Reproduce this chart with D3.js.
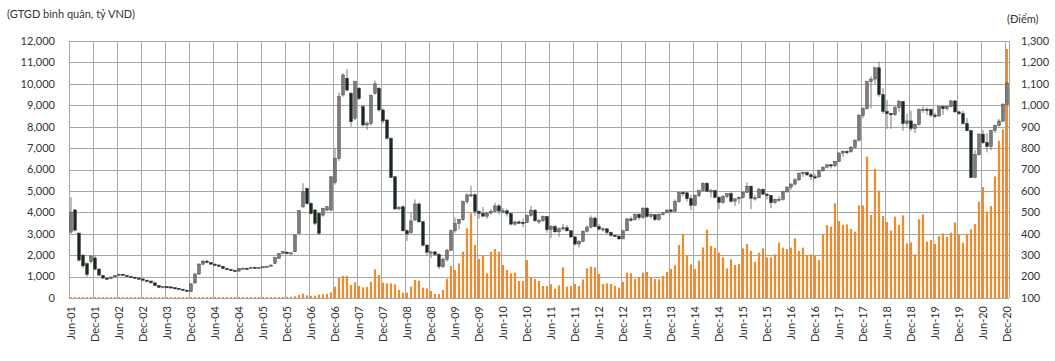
<!DOCTYPE html>
<html><head><meta charset="utf-8">
<script src="https://cdn.jsdelivr.net/npm/d3@7/dist/d3.min.js"></script>
<style>
html,body{margin:0;padding:0;background:#fff;}
svg text{font-family:Lato,"Noto Sans",sans-serif;fill:#333;}
</style></head>
<body><svg id="c" width="1055" height="361"></svg>
<script>
// ---- DATA ----
const startMonth = "2001-06";
const endMonth = "2020-12";
const leftTicks = [0,1000,2000,3000,4000,5000,6000,7000,8000,9000,10000,11000,12000];
const rightTicks = [100,200,300,400,500,600,700,800,900,1000,1100,1200,1300];
const xTickLabels = ["Jun-01","Dec-01","Jun-02","Dec-02","Jun-03","Dec-03","Jun-04","Dec-04","Jun-05","Dec-05","Jun-06","Dec-06","Jun-07","Dec-07","Jun-08","Dec-08","Jun-09","Dec-09","Jun-10","Dec-10","Jun-11","Dec-11","Jun-12","Dec-12","Jun-13","Dec-13","Jun-14","Dec-14","Jun-15","Dec-15","Jun-16","Dec-16","Jun-17","Dec-17","Jun-18","Dec-18","Jun-19","Dec-19","Jun-20","Dec-20"];

// VN-Index monthly OHLC (points), Jun-01 .. Dec-20
const idxOpen = [408,511,403,300,260,270,287, 235,205,193,190,198,205,211,206,201,197,193,189, 183,179,171,158,150,153,152,148,145,141,136,130, 170,212,258,272,266,258,254,248,238,233,229,226, 238,239,237,243,240,243,246,248,262,285,308,314, 307,316,402,526,611,541,511,495,487,511,511,640, 751,1048,1126,1056,939,1079,993,908,915,1056,1079,978, 931,846,666,516,526,414,405,464,539,456,347,310, 315,303,246,281,322,414,448,467,550,581,582,504, 495,482,497,505,530,506,507,494,445,455,453,452, 485,510,461,461,480,419,433,409,423,428,414,385, 352,365,412,431,473,434,422,423,406,393,389,376, 414,469,467,491,476,519,481,489,466,490,498,511, 505,550,592,591,564,533,578,602,635,599,601,570, 546,575,587,552,563,569,594,622,566,568,607,585, 579,545,559,561,596,618,632,652,682,686,675,666, 665,694,711,722,718,738,777,784,783,804,837,953, 984,1110,1122,1175,1050,971,961,956,989,1017,915,927, 892,911,980,981,980,954,950,994,984,994,1020,969, 961,915,881,663,769,865,825,808,882,906,926,1003];
const idxHigh = [571,515,405,305,265,300,298, 240,208,197,200,208,214,213,208,203,199,195,191, 186,181,172,160,155,156,153,150,147,143,140,170, 217,263,277,278,268,262,256,250,240,236,232,240, 242,241,245,246,245,248,250,256,292,310,320,316, 312,396,510,636,615,548,515,500,522,530,670,800, 1060,1150,1170,1062,1115,1085,1000,925,1050,1115,1085,985, 935,850,670,530,532,420,500,560,545,460,350,320, 320,310,290,330,420,475,470,555,590,624,590,510, 525,500,515,545,540,520,515,497,460,462,470,490, 530,515,470,485,482,440,440,430,445,440,418,390, 370,415,440,485,480,445,430,425,410,398,392,415, 475,480,495,495,525,525,495,490,495,500,512,515, 560,595,600,595,580,585,605,640,641,610,606,575, 580,590,595,565,575,600,640,625,580,615,612,590, 582,565,575,600,620,635,660,685,690,690,685,680, 700,715,725,725,740,780,790,790,810,840,960,990, 1115,1135,1180,1204,1080,1025,965,1000,1025,1020,960,975, 915,985,995,990,985,965,995,1000,1000,1025,1025,975, 975,940,885,790,870,885,870,885,910,935,1010,1110];
const idxLow = [400,410,270,240,200,262,230, 203,190,186,188,196,203,204,199,195,191,187,180, 176,168,155,146,148,149,146,143,139,133,130,128, 168,207,255,262,255,250,245,235,230,226,222,222, 234,235,236,238,238,241,244,246,258,283,305,305, 303,314,400,520,535,490,440,395,480,505,505,630, 740,1040,1065,900,930,1025,900,885,905,1050,970,915, 840,660,510,510,410,366,400,460,450,340,300,286, 296,235,240,270,320,405,420,460,540,570,485,470, 480,470,490,500,490,495,480,440,438,445,430,450, 480,455,445,455,405,380,405,385,415,410,380,345, 335,360,405,425,430,415,410,395,385,385,372,375, 412,455,460,465,470,475,470,460,460,485,495,495, 500,545,575,550,510,530,570,598,595,570,565,515, 540,565,545,530,540,565,590,515,555,565,580,560, 520,540,550,555,590,605,625,645,665,670,650,655, 662,690,705,705,710,735,760,770,778,800,830,940, 980,985,1100,1040,960,890,890,950,970,880,900,880, 870,905,965,955,945,940,945,955,975,990,965,955, 910,880,659,660,765,820,780,790,870,900,920,1000];
const idxClose = [501,417,277,250,210,296,235, 207,193,190,198,205,211,206,201,197,193,189,183, 179,171,158,150,153,152,148,145,141,136,134,166, 212,258,272,266,258,254,248,238,233,229,226,238, 239,237,243,240,243,246,248,254,290,308,318,307, 311,394,508,596,541,495,449,402,518,526,666,751, 1041,1141,1071,923,1110,1032,908,915,1046,1100,978,927, 846,663,516,522,414,399,460,539,456,347,314,315, 303,246,281,322,414,448,467,550,581,582,504,495, 482,497,505,530,506,507,494,445,455,453,452,485, 510,461,461,480,419,433,409,423,428,414,385,352, 365,412,431,473,434,422,423,406,393,389,376,414, 469,467,491,476,519,481,489,466,490,498,511,505, 550,592,591,564,533,578,602,635,599,601,570,546, 575,587,552,563,569,594,622,566,568,607,585,579, 545,559,561,596,618,632,652,682,686,675,666,665, 694,711,722,718,738,777,784,783,804,837,953,984, 1110,1122,1175,1050,971,961,956,989,1017,915,927,892, 911,980,981,980,954,950,994,984,994,1020,969,961, 915,881,663,769,865,825,808,882,906,926,1003,1104];
// Average daily trading value (GTGD, billion VND)
const gtgd = [40,40,40,40,40,40,40, 40,40,40,40,40,40,40,40,40,40,40,40, 40,40,40,40,40,40,40,40,40,40,40,40, 45,45,45,45,45,45,45,45,45,45,45,45, 45,45,45,45,45,45,45,45,45,45,50,55, 60,80,140,200,120,100,110,160,170,190,260,530, 940,1030,1030,607,730,560,498,514,762,1338,1074,716, 685,685,638,374,249,249,529,840,809,482,451,327, 187,187,373,900,1494,1307,1618,2163,3252,3953,2474,1821, 1961,1152,2163,2288,2163,1541,1307,1152,1183,794,794,1774, 949,887,794,560,560,638,436,591,1432,529,560,653, 560,871,1385,1463,1432,1120,653,685,653,560,482,747, 1183,1152,887,965,1183,1214,949,887,871,1027,1214,1354, 1525,2474,2988,2007,1570,1350,1743,2365,3190,2428,2350,2116, 1898,1385,1805,1541,1587,2318,2521,2194,1696,2116,2318,1898, 1898,2038,2583,2350,2288,2350,2785,2194,2350,2007,2038,1976, 1774,2941,3408,3330,4420,3595,3408,3440,3221,3097,4326,4326, 6600,3875,6030,5010,3828,3548,3144,3797,3408,3859,2552,2599, 2038,3673,3906,2630,2708,2521,2894,3019,2863,3050,3532,2988, 2583,2988,3206,3455,4497,5180,4030,4295,5680,7340,7870,11625];

// ---- CHART ----
const parse = d3.timeParse("%Y-%m");
const fmtM = d3.timeFormat("%b-%y");
const months = d3.timeMonth.range(parse(startMonth), d3.timeMonth.offset(parse(endMonth),1)).map(fmtM);

const M = {left:69, right:1009, top:41, bottom:298};
const svg = d3.select("#c");
const x = d3.scaleBand().domain(months).range([M.left, M.right]).padding(0);
const yL = d3.scaleLinear().domain([0,12000]).range([M.bottom, M.top]);
const yR = d3.scaleLinear().domain([100,1300]).range([M.bottom, M.top]);
const bw = x.bandwidth();

// gridlines
const grid = svg.append("g");
grid.selectAll("line.h").data(leftTicks).enter().append("line")
  .attr("x1",M.left).attr("x2",M.right)
  .attr("y1",d=>Math.round(yL(d))+0.5).attr("y2",d=>Math.round(yL(d))+0.5)
  .attr("stroke","#a6a6a6").attr("stroke-width",1);
grid.selectAll("line.v").data(xTickLabels).enter().append("line")
  .attr("x1",d=>Math.round(x(d))+0.5).attr("x2",d=>Math.round(x(d))+0.5)
  .attr("y1",M.top).attr("y2",M.bottom)
  .attr("stroke","#a6a6a6").attr("stroke-width",1);
grid.append("line").attr("x1",M.right+0.5).attr("x2",M.right+0.5).attr("y1",M.top).attr("y2",M.bottom)
  .attr("stroke","#a6a6a6");

// bars
svg.append("g").selectAll("rect").data(gtgd).enter().append("rect")
  .attr("x",(d,i)=>x(months[i])+bw*0.22)
  .attr("width",bw*0.55)
  .attr("y",d=>yL(d))
  .attr("height",d=>M.bottom-yL(d))
  .attr("fill","#ef8a2e");

// candles
const cg = svg.append("g");
months.forEach((m,i)=>{
  const cx = x(m)+bw/2;
  cg.append("line").attr("x1",cx).attr("x2",cx)
    .attr("y1",yR(idxHigh[i])).attr("y2",yR(idxLow[i]))
    .attr("stroke","#7a7a7a").attr("stroke-width",1);
  const up = idxClose[i] >= idxOpen[i];
  const t = yR(Math.max(idxOpen[i],idxClose[i])), b = yR(Math.min(idxOpen[i],idxClose[i]));
  cg.append("rect").attr("x",cx-1.4).attr("width",2.8)
    .attr("y",t).attr("height",Math.max(1.2,b-t))
    .attr("fill", up ? "#7b7b7b" : "#1c2a1c")
    .attr("stroke", up ? "#4a4a4a" : "#2a352a").attr("stroke-width",0.5);
});

// axis line bottom
svg.append("line").attr("x1",M.left).attr("x2",M.right).attr("y1",M.bottom+0.5).attr("y2",M.bottom+0.5)
  .attr("stroke","#a6a6a6");

// left axis labels
const fmt = d3.format(",");
svg.append("g").selectAll("text").data(leftTicks).enter().append("text")
  .attr("x",55).attr("y",d=>yL(d)).attr("dy","0.35em")
  .attr("text-anchor","end").attr("font-size","11px").text(d=>fmt(d));
// right axis labels
svg.append("g").selectAll("text").data(rightTicks).enter().append("text")
  .attr("x",1021).attr("y",d=>yR(d)).attr("dy","0.35em")
  .attr("text-anchor","start").attr("font-size","11px").text(d=>fmt(d));
// x labels
svg.append("g").selectAll("text").data(xTickLabels).enter().append("text")
  .attr("transform",d=>`translate(${x(d)+bw/2+0.5},306) rotate(-90)`)
  .attr("dy","0.35em").attr("text-anchor","end").attr("font-size","11px").text(d=>d);

// titles
svg.append("text").attr("x",7).attr("y",18).attr("font-size","11px").text("(GTGD bình quân, tỷ VND)");
svg.append("text").attr("x",1007).attr("y",23).attr("font-size","11px").text("(Điểm)");
</script></body></html>
